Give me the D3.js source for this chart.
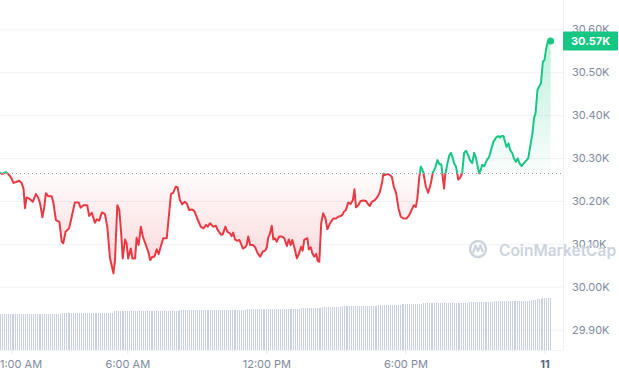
<!DOCTYPE html>
<html>
<head>
<meta charset="utf-8">
<script src="https://cdn.jsdelivr.net/npm/d3@7"></script>
<style>
  body { margin: 0; background: #fff; }
  svg { display: block; font-family: Inter, "DejaVu Sans", sans-serif; }
</style>
</head>
<body>
<svg class="chart"></svg>
<script>
// minutes after midnight of the 10th
var minutes = [
  30,35,39,45,51,56,62,65,72,80,
  86,91,95,99,108,115,123,129,134,140,
  145,149,155,164,168,175,184,190,194,200,
  209,216,224,234,239,246,256,261,268,276,
  281,287,294,302,308,315,320,324,328,334,
  339,344,348,354,358,362,369,373,380,384,
  389,395,400,408,414,419,425,430,436,441,
  446,453,462,469,473,479,485,490,496,502,
  509,514,520,527,533,541,550,557,564,568,
  574,578,583,589,594,603,607,614,619,626,
  630,634,639,645,650,654,659,665,669,673,
  678,685,691,697,704,711,717,721,725,729,
  734,738,742,747,753,760,766,773,778,783,
  787,792,799,805,810,814,818,826,830,835,
  839,844,849,853,857,862,867,873,878,885,
  893,900,906,913,918,921,926,932,938,944,
  948,952,958,964,971,978,982,988,993,1001,
  1008,1014,1020,1023,1027,1033,1040,1045,1050,1056,
  1062,1068,1075,1083,1090,1096,1102,1107,1111,1116,
  1120,1126,1133,1139,1146,1151,1157,1163,1168,1173,
  1177,1180,1183,1189,1194,1198,1203,1206,1211,1217,
  1221,1227,1232,1237,1243,1247,1253,1258,1263,1267,
  1271,1275,1279,1284,1291,1297,1304,1308,1315,1321,
  1325,1329,1334,1338,1342,1347,1351,1357,1361,1366,
  1371,1375,1381,1387,1394,1398,1403,1409,1413,1417,
  1422,1426,1431,1436,1440,1444,1449,1456
];

var prices = [
  30266,30263,30264,30267,30263,30258,30249,30242,30244,30247,
  30242,30229,30183,30208,30204,30198,30216,30208,30194,30162,
  30186,30218,30211,30211,30198,30155,30151,30105,30101,30128,
  30136,30163,30196,30196,30184,30190,30190,30165,30172,30149,
  30157,30154,30173,30169,30140,30067,30047,30031,30062,30190,
  30179,30124,30066,30110,30101,30066,30089,30066,30066,30114,
  30097,30140,30117,30097,30082,30062,30070,30070,30087,30076,
  30092,30113,30113,30179,30216,30219,30233,30232,30202,30192,
  30198,30194,30179,30180,30177,30159,30140,30136,30144,30140,
  30148,30144,30140,30142,30132,30121,30122,30140,30128,30124,
  30118,30126,30110,30107,30109,30101,30089,30092,30097,30117,
  30097,30097,30092,30078,30070,30082,30084,30092,30115,30123,
  30142,30110,30113,30105,30117,30117,30114,30095,30110,30097,
  30109,30093,30066,30078,30093,30084,30109,30113,30087,30092,
  30078,30070,30076,30060,30058,30148,30171,30159,30134,30148,
  30159,30159,30163,30165,30169,30175,30179,30196,30193,30202,
  30227,30185,30190,30200,30201,30200,30194,30188,30198,30202,
  30210,30221,30245,30264,30260,30263,30260,30256,30233,30218,
  30183,30163,30159,30159,30167,30179,30190,30186,30206,30256,
  30280,30268,30233,30219,30241,30266,30276,30295,30286,30285,
  30253,30229,30260,30288,30307,30312,30299,30288,30280,30250,
  30253,30264,30312,30317,30305,30295,30288,30312,30299,30280,
  30264,30272,30284,30281,30295,30303,30326,30338,30348,30351,
  30348,30351,30351,30338,30326,30334,30319,30311,30299,30291,
  30299,30288,30281,30288,30295,30299,30326,30358,30393,30404,
  30459,30466,30474,30525,30528,30552,30573,30573
];

var openPrice = 30264;
var lastPriceLabel = "30.57K";

// 24h volume (billions USD), one bar every 5 minutes from 00:30
var volume = [
  12.0,12.0,12.0,12.0,12.0,12.0,12.0,12.0,12.0,12.0,12.0,12.0,12.0,12.0,12.0,12.0,
  12.0,12.0,12.0,12.0,12.0,12.0,12.0,12.0,12.0,12.0,12.0,12.0,12.0,12.0,12.0,12.0,
  12.2,12.2,12.2,12.2,12.2,12.2,12.2,
  12.4,12.4,12.4,12.4,12.4,12.4,12.4,12.4,12.4,12.4,12.4,12.4,12.4,12.4,12.4,12.4,12.4,
  12.3,12.3,12.3,
  13.0,13.0,13.0,13.0,13.0,13.0,13.0,13.0,13.0,13.0,13.0,13.0,13.0,13.0,13.0,13.0,13.0,
  13.0,13.0,13.0,13.0,13.0,13.0,13.0,13.0,13.0,13.0,13.0,13.0,13.0,13.0,13.0,13.0,13.0,
  13.3,13.3,13.3,13.3,13.3,13.3,13.3,13.3,13.3,13.3,13.3,13.3,13.3,13.3,13.3,13.3,13.3,13.3,
  13.3,13.3,13.3,13.3,13.3,13.3,13.3,13.3,13.3,13.3,13.3,13.3,13.3,13.3,13.3,13.3,13.3,
  13.7,13.7,13.7,13.7,13.7,13.7,13.7,13.7,13.7,13.7,13.7,13.7,13.7,13.7,
  13.7,13.7,13.7,13.7,13.7,13.7,13.7,13.7,13.7,13.7,13.7,13.7,13.7,13.7,
  14.0,14.0,14.0,14.0,14.0,14.0,14.0,14.0,14.0,14.0,14.0,
  14.3,14.3,14.3,14.3,14.3,14.3,14.3,14.3,14.3,14.3,
  14.7,14.7,14.7,14.7,14.7,14.7,14.7,14.7,14.7,14.7,14.7,14.7,14.7,14.7,14.7,14.7,14.7,14.7,14.7,
  15.0,15.0,15.0,15.0,15.0,15.0,15.0,15.0,15.0,15.0,15.0,15.0,
  15.3,15.3,15.3,15.3,15.3,15.3,15.3,15.3,15.3,15.3,15.3,
  15.6,15.6,15.6,15.6,15.6,15.6,15.6,15.6,15.6,15.6,15.6,15.6,
  15.6,15.6,15.6,15.6,15.6,15.6,15.6,15.6,15.6,15.6,15.6,15.6,
  16.0,16.0,16.0,16.0,16.0,16.0,16.0,16.0,16.0,16.0,16.0,16.0,16.0,
  16.3,16.3,16.3,16.3,16.3,16.3,16.3,16.3,16.3,16.3,16.3,16.3,16.3,16.3,16.3,16.3,16.3,16.3,16.3,
  16.7,16.7,16.7,
  17.0,17.0,17.0,
  17.3,17.3,17.3,17.3,17.3
];

var yTicks = [29900, 30000, 30100, 30200, 30300, 30400, 30500, 30600];
var yTickLabels = ["29.90K", "30.00K", "30.10K", "30.20K", "30.30K", "30.40K", "30.50K", "30.60K"];
var xTickMinutes = [60, 360, 720, 1080, 1440];
var xTickLabels = ["1:00 AM", "6:00 AM", "12:00 PM", "6:00 PM", "11"];

function show() {

    'use strict';

    var width = 619, height = 376,
        plotRight = 563, volBottom = 350;

    var green = "#16c784", red = "#ea3943", grid = "#eff2f5", textGrey = "#808a9d";

    var base = new Date(2023, 6, 10);
    function toDate(m) { return new Date(base.getTime() + m * 60000); }

    var chart = d3.select(".chart")
        .attr("width", width)
        .attr("height", height);

    // scales
    var scaleX = d3.scaleTime()
        .domain([toDate(30.2), toDate(1488.1)])
        .range([0, plotRight]);
    var scaleY = d3.scaleLinear().domain([29900, 30600]).range([329.6, 29.3]);
    var scaleV = d3.scaleLinear().domain([0, 18]).range([volBottom, 296]);

    var data = minutes.map(function(m, i) { return {t: toDate(m), p: prices[i]}; });
    var yOpen = scaleY(openPrice);

    // defs: gradients and clips
    var defs = chart.append("defs");
    var gGreen = defs.append("linearGradient").attr("id", "gradGreen")
        .attr("gradientUnits", "userSpaceOnUse")
        .attr("x1", 0).attr("x2", 0)
        .attr("y1", scaleY(d3.max(prices))).attr("y2", yOpen);
    gGreen.append("stop").attr("offset", 0).attr("stop-color", green).attr("stop-opacity", 0.28);
    gGreen.append("stop").attr("offset", 1).attr("stop-color", green).attr("stop-opacity", 0.02);

    var gRed = defs.append("linearGradient").attr("id", "gradRed")
        .attr("gradientUnits", "userSpaceOnUse")
        .attr("x1", 0).attr("x2", 0)
        .attr("y1", yOpen).attr("y2", scaleY(d3.min(prices)));
    gRed.append("stop").attr("offset", 0).attr("stop-color", red).attr("stop-opacity", 0.02);
    gRed.append("stop").attr("offset", 1).attr("stop-color", red).attr("stop-opacity", 0.2);

    defs.append("clipPath").attr("id", "clipAbove")
        .append("rect").attr("x", 0).attr("y", 0).attr("width", width).attr("height", yOpen);
    defs.append("clipPath").attr("id", "clipBelow")
        .append("rect").attr("x", 0).attr("y", yOpen).attr("width", width).attr("height", height - yOpen);

    // grid + right axis
    var rightAxis = d3.axisRight(scaleY)
        .tickValues(yTicks)
        .tickFormat(function(d, i) { return yTickLabels[i]; })
        .tickSize(-plotRight)
        .tickPadding(9);
    var rightAxisG = chart.append("g")
        .attr("transform", "translate(" + plotRight + ",0)")
        .call(rightAxis);
    rightAxisG.select(".domain").remove();
    rightAxisG.selectAll(".tick line").attr("stroke", grid);
    rightAxisG.selectAll(".tick text")
        .attr("fill", textGrey)
        .style("font-size", "11px")
        .style("font-family", "Inter, sans-serif");

    chart.append("line")
        .attr("x1", 0).attr("x2", plotRight)
        .attr("y1", volBottom + 0.5).attr("y2", volBottom + 0.5)
        .attr("stroke", grid);
    chart.append("line")
        .attr("x1", plotRight + 0.5).attr("x2", plotRight + 0.5)
        .attr("y1", 0).attr("y2", volBottom)
        .attr("stroke", grid);

    // volume bars
    chart.append("g").selectAll("rect")
        .data(volume)
        .enter().append("rect")
        .attr("x", function(d, i) { return Math.round(scaleX(toDate(30 + i * 5))); })
        .attr("y", function(d) { return scaleV(d); })
        .attr("width", 1)
        .attr("height", function(d) { return volBottom - scaleV(d); })
        .attr("fill", "#c9d1e0")
        .attr("shape-rendering", "crispEdges");

    // watermark
    var wm = chart.append("g").attr("fill", "none").attr("stroke", "#cdd3dd");
    wm.append("circle").attr("cx", 478).attr("cy", 249).attr("r", 8).attr("stroke-width", 2.4);
    wm.append("path")
        .attr("d", "M473,253 L475.5,245.5 L478,251 L480.5,245.5 L483,252")
        .attr("stroke-width", 2.2)
        .attr("stroke-linejoin", "round");
    chart.append("text")
        .attr("x", 499).attr("y", 256)
        .attr("fill", "#cdd3dd")
        .style("font-size", "15.5px")
        .style("font-weight", 600)
        .style("font-family", "Inter, sans-serif")
        .text("CoinMarketCap");

    // area fills
    var area = d3.area()
        .x(function(d) { return scaleX(d.t); })
        .y0(yOpen)
        .y1(function(d) { return scaleY(d.p); });
    chart.append("path").datum(data)
        .attr("d", area).attr("fill", "url(#gradGreen)").attr("clip-path", "url(#clipAbove)");
    chart.append("path").datum(data)
        .attr("d", area).attr("fill", "url(#gradRed)").attr("clip-path", "url(#clipBelow)");

    // opening price dotted line
    chart.append("line")
        .attr("x1", 0).attr("x2", plotRight)
        .attr("y1", Math.round(yOpen) + 0.5).attr("y2", Math.round(yOpen) + 0.5)
        .attr("stroke", "#8f98a8")
        .attr("stroke-width", 1)
        .attr("stroke-dasharray", "1,3");

    // price line
    var line = d3.line()
        .x(function(d) { return scaleX(d.t); })
        .y(function(d) { return scaleY(d.p); });
    chart.append("path").datum(data)
        .attr("d", line).attr("fill", "none").attr("stroke", green)
        .attr("stroke-width", 2).attr("stroke-linejoin", "round")
        .attr("clip-path", "url(#clipAbove)");
    chart.append("path").datum(data)
        .attr("d", line).attr("fill", "none").attr("stroke", red)
        .attr("stroke-width", 2).attr("stroke-linejoin", "round")
        .attr("clip-path", "url(#clipBelow)");

    var last = data[data.length - 1];
    chart.append("circle")
        .attr("cx", scaleX(last.t)).attr("cy", scaleY(last.p))
        .attr("r", 3.5).attr("fill", green);

    // last price tag
    var tagY = scaleY(last.p);
    chart.append("rect")
        .attr("x", plotRight).attr("y", tagY - 9.5)
        .attr("width", width - plotRight - 1).attr("height", 19)
        .attr("rx", 1)
        .attr("fill", green);
    chart.append("text")
        .attr("x", plotRight + 8).attr("y", tagY)
        .attr("dy", "0.36em")
        .attr("fill", "#fff")
        .style("font-size", "11px")
        .style("font-weight", 700)
        .style("font-family", "Inter, sans-serif")
        .text(lastPriceLabel);

    // bottom axis
    var bottomAxis = d3.axisBottom(scaleX)
        .tickValues(xTickMinutes.map(toDate))
        .tickFormat(function(d, i) { return xTickLabels[i]; })
        .tickSize(4)
        .tickPadding(6);
    var bottomAxisG = chart.append("g")
        .attr("transform", "translate(0," + volBottom + ")")
        .call(bottomAxis);
    bottomAxisG.select(".domain").remove();
    bottomAxisG.selectAll(".tick line").attr("stroke", "#e3e6eb");
    bottomAxisG.selectAll(".tick text")
        .attr("fill", function(d, i) { return i === xTickLabels.length - 1 ? "#58667e" : textGrey; })
        .style("font-weight", function(d, i) { return i === xTickLabels.length - 1 ? 700 : 400; })
        .style("font-size", "11px")
        .style("font-family", "Inter, sans-serif");
    // first label sits to the right of its tick, clipped at the left edge
    bottomAxisG.select(".tick text").attr("dx", 9);
}

show();
</script>
</body>
</html>
